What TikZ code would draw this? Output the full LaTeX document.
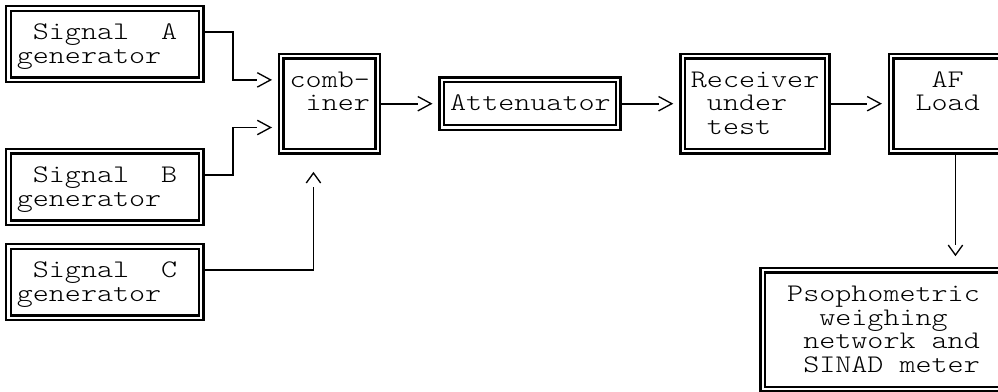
\documentclass[tikz,border=0pt]{standalone}
\usepackage{fontspec}
\usetikzlibrary{calc,fit}
\newfontfamily\asciifont{lmmonolt10-regular.otf}[FakeStretch=1.207]
\newcommand{\blank}{\phantom{x}}
\tikzset{
  dblbox/.style={draw=black,double=white,line width=1.8pt,double distance=1.6pt,inner sep=0pt,outer sep=2.6pt},
  boxtxt/.style={font=\asciifont\fontsize{19pt}{17.85pt}\selectfont,inner sep=0pt,anchor=base west,text width=9cm,align=left},
  wire/.style={line width=1.4pt,draw=black},
  chev/.pic={\draw[line width=1pt,line join=miter] (0pt,5.4pt)--(#1,0pt)--(0pt,-5.4pt);}
}

\begin{document}
\begin{tikzpicture}[x=12.0375pt,y=-17.85pt]
  \path[use as bounding box,fill=white] (-0.53,-0.357) rectangle (61.65,16.113);
  % frames, in (column,row) of the character grid
  \node[dblbox,fit={(0,0)(12,3)}] (sigA) {};
  \node[dblbox,fit={(0,6)(12,9)}] (sigB) {};
  \node[dblbox,fit={(0,10)(12,13)}] (sigC) {};
  \node[dblbox,fit={(17,2)(23,6)}] (comb) {};
  \node[dblbox,fit={(27,3)(38,5)}] (att) {};
  \node[dblbox,fit={(42,2)(51,6)}] (rx) {};
  \node[dblbox,fit={(55,2)(63,6)}] (af) {};
  \node[dblbox,fit={(47,11)(71,16)}] (meter) {};
  % texts, one \blank per character cell
  \node[boxtxt] (sigAtxt) at (0.5,1.3) {\blank Signal\blank\blank A\\generator};
  \node[boxtxt] (sigBtxt) at (0.5,7.3) {\blank Signal\blank\blank B\\generator};
  \node[boxtxt] (sigCtxt) at (0.5,11.3) {\blank Signal\blank\blank C\\generator};
  \node[boxtxt] (combtxt) at (17.5,3.3) {comb-\\\blank iner};
  \node[boxtxt] (atttxt) at (27.5,4.3) {Attenuator};
  \node[boxtxt] (rxtxt) at (42.5,3.3) {Receiver\\\blank under\\\blank test};
  \node[boxtxt] (aftxt) at (55.5,3.3) {\blank\blank AF\\\blank Load};
  \node[boxtxt] (metertxt) at (47.5,12.3) {\blank Psophometric\\\blank\blank\blank weighing\\\blank\blank network\blank and\\\blank\blank SINAD\blank meter};
  % connector ends
  \coordinate (inA) at (15.5,3);
  \coordinate (inB) at (15.5,5);
  \coordinate (inC) at (19,7.5);
  \coordinate (inAtt) at (25.5,4);
  \coordinate (inRx) at (40.5,4);
  \coordinate (inAf) at (53.5,4);
  \coordinate (inPs) at (59,9.94);
  \draw[wire] ([yshift=8.925pt]sigA.east) -| ($(inA)-(1.5,0)$) -- (inA);
  \draw[wire] ([yshift=8.925pt]sigB.east) -| ($(inB)-(1.5,0)$) -- (inB);
  \draw[wire] ([yshift=8.925pt]sigC.east) -| (inC);
  \draw[wire] (comb.east) -- (inAtt);
  \draw[wire] (att.east) -- (inRx);
  \draw[wire] (rx.east) -- (inAf);
  \draw[wire] (af.south) -- (inPs);
  \foreach \p in {inA,inB,inAtt,inRx,inAf} \pic at (\p) {chev=10pt};
  \pic[rotate=90] at ([yshift=3pt]inC) {chev=7.5pt};
  \pic[rotate=-90] at (inPs) {chev=7.5pt};
\end{tikzpicture}
\end{document}
